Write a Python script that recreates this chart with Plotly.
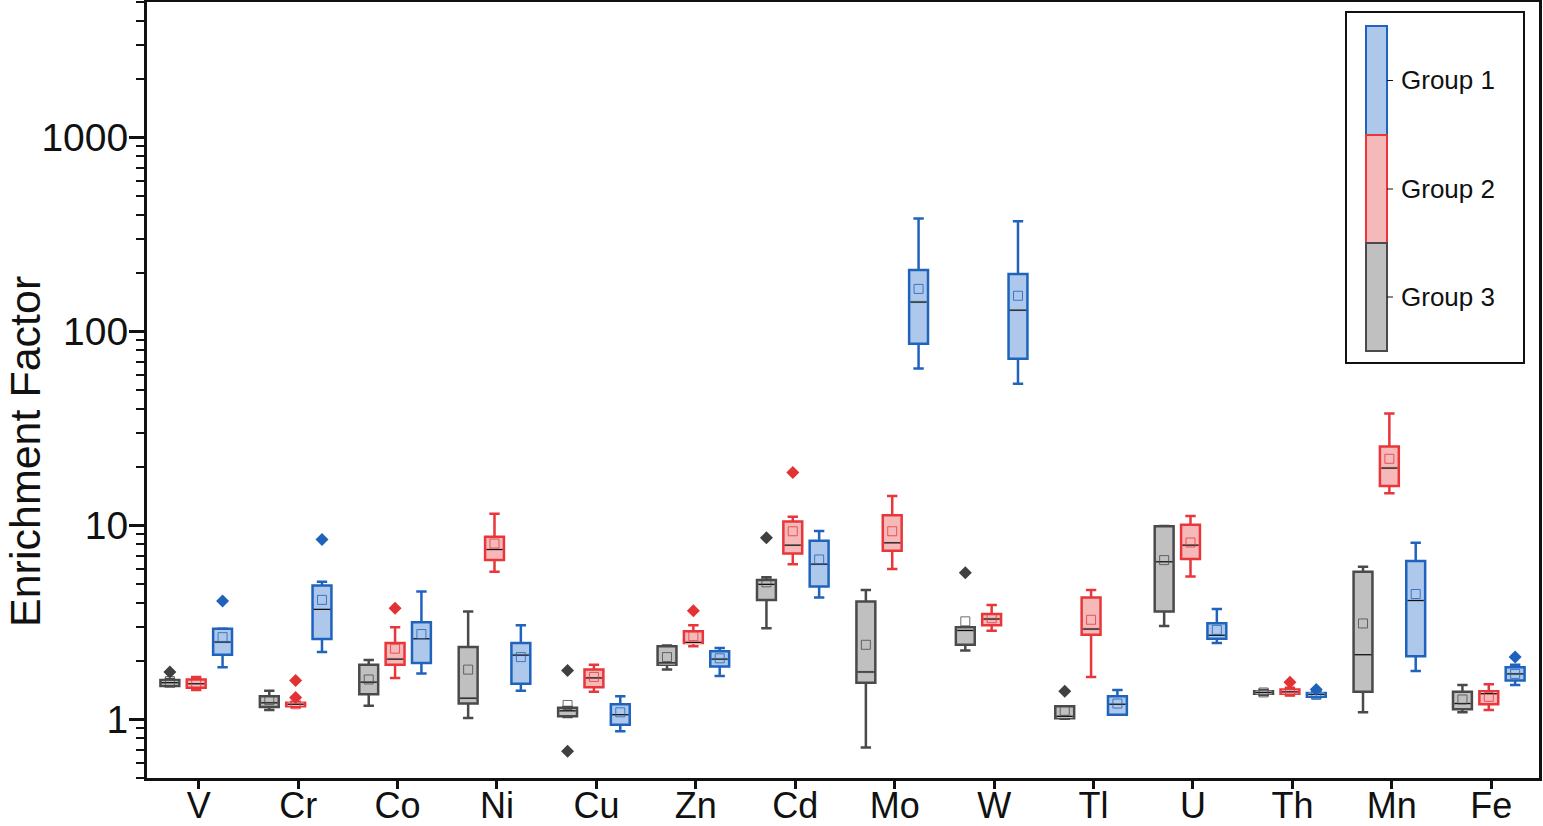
import numpy as np
import plotly.graph_objects as go

elements = ["V", "Cr", "Co", "Ni", "Cu", "Zn", "Cd", "Mo", "W", "Tl", "U", "Th", "Mn", "Fe"]

# Group 3 (grey boxes)
g3_low = [1.48, 1.12, 1.18, 1.02, 1.03, 1.81, 2.96, 0.718, 2.27, 1.01, 3.04, 1.34, 1.09, 1.09]
g3_q1 = [1.49, 1.16, 1.35, 1.21, 1.04, 1.92, 4.14, 1.55, 2.43, 1.015, 3.61, 1.36, 1.39, 1.13]
g3_med = [1.55, 1.22, 1.56, 1.29, 1.11, 1.96, 4.98, 1.76, 2.88, 1.04, 6.51, 1.38, 2.16, 1.21]
g3_q3 = [1.60, 1.32, 1.92, 2.37, 1.15, 2.39, 5.24, 4.06, 2.99, 1.17, 9.92, 1.40, 5.79, 1.39]
g3_high = [1.62, 1.41, 2.03, 3.61, 1.16, 2.41, 5.41, 4.66, 2.99, 1.17, 9.95, 1.42, 6.14, 1.51]
g3_mean = [1.58, 1.26, 1.61, 1.81, 1.19, 2.10, 5.10, 2.43, 3.21, 1.11, 6.64, 1.38, 3.13, 1.27]
g3_out = [("V", 1.76), ("Cu", 1.79), ("Cu", 0.686), ("Cd", 8.65), ("W", 5.72), ("Tl", 1.40)]

# Group 2 (red boxes)
g2_low = [1.42, 1.16, 1.64, 5.79, 1.39, 2.39, 6.33, 5.97, 2.87, 1.66, 5.46, 1.33, 14.7, 1.12]
g2_q1 = [1.46, 1.17, 1.92, 6.64, 1.47, 2.48, 7.18, 7.41, 3.06, 2.74, 6.72, 1.36, 16.0, 1.20]
g2_med = [1.53, 1.20, 2.05, 7.53, 1.64, 2.50, 7.93, 8.15, 3.30, 2.93, 7.93, 1.39, 19.8, 1.36]
g2_q3 = [1.61, 1.22, 2.48, 8.75, 1.81, 2.85, 10.5, 11.3, 3.50, 4.26, 10.1, 1.43, 25.6, 1.40]
g2_high = [1.66, 1.23, 2.99, 11.5, 1.92, 3.06, 11.1, 14.2, 3.90, 4.66, 11.2, 1.45, 37.8, 1.52]
g2_mean = [1.54, 1.20, 2.32, 8.08, 1.66, 2.69, 9.35, 9.35, 3.33, 3.27, 8.18, 1.40, 22.1, 1.31]
g2_out = [("Cr", 1.59), ("Cr", 1.30), ("Co", 3.75), ("Zn", 3.64), ("Cd", 18.8), ("Th", 1.56)]

# Group 1 (blue boxes)
g1_low = [1.86, 2.23, 1.73, 1.41, 0.87, 1.68, 4.26, 64.6, 53.9, 1.06, 2.48, 1.30, 1.78, 1.51]
g1_q1 = [2.16, 2.60, 1.96, 1.53, 0.94, 1.88, 4.85, 86.5, 72.4, 1.06, 2.61, 1.31, 2.12, 1.59]
g1_med = [2.51, 3.70, 2.61, 2.15, 1.06, 2.05, 6.33, 142, 129, 1.20, 2.72, 1.35, 4.11, 1.72]
g1_q3 = [2.94, 4.91, 3.18, 2.48, 1.20, 2.25, 8.35, 208, 198, 1.32, 3.14, 1.37, 6.56, 1.86]
g1_high = [2.95, 5.14, 4.57, 3.06, 1.32, 2.34, 9.39, 383, 370, 1.42, 3.72, 1.39, 8.15, 1.92]
g1_mean = [2.66, 4.14, 2.76, 2.10, 1.09, 2.07, 6.69, 166, 153, 1.21, 2.90, 1.34, 4.44, 1.72]
g1_out = [("V", 4.09), ("Cr", 8.47), ("Th", 1.43), ("Fe", 2.10)]

groups = [
    dict(name="Group 3", low=g3_low, q1=g3_q1, med=g3_med, q3=g3_q3, high=g3_high,
         mean=g3_mean, out=g3_out, shift=-0.29, edge="#4a4a4a", fill="#c0c0c0", dot="#404040"),
    dict(name="Group 2", low=g2_low, q1=g2_q1, med=g2_med, q3=g2_q3, high=g2_high,
         mean=g2_mean, out=g2_out, shift=-0.025, edge="#e8363a", fill="#f6b9ba", dot="#e33234"),
    dict(name="Group 1", low=g1_low, q1=g1_q1, med=g1_med, q3=g1_q3, high=g1_high,
         mean=g1_mean, out=g1_out, shift=0.24, edge="#1f63bd", fill="#adc8ea", dot="#1e62bb"),
]

FONT = "Arial, Liberation Sans, sans-serif"
W, H = 1543, 826
L, R, T, B = 147, 4, 2, 48

fig = go.Figure()
idx = np.arange(len(elements))

for g in groups:
    xs = idx + g["shift"]
    fig.add_trace(go.Box(
        x=xs, q1=g["q1"], median=g["med"], q3=g["q3"],
        lowerfence=g["low"], upperfence=g["high"],
        width=0.19, whiskerwidth=0.55, boxpoints=False,
        fillcolor=g["fill"], line=dict(color=g["edge"], width=2.5),
        name=g["name"], showlegend=False,
    ))

for g in groups:
    xs = idx + g["shift"]
    # thin black median line instead of the coloured one
    fig.add_trace(go.Scatter(
        x=xs, y=g["med"], mode="markers", hoverinfo="skip", showlegend=False,
        marker=dict(symbol="line-ew", size=11.4, line=dict(color=g["fill"], width=3.5)),
    ))
    fig.add_trace(go.Scatter(
        x=xs, y=g["med"], mode="markers", hoverinfo="skip", showlegend=False,
        marker=dict(symbol="line-ew", size=11.4, line=dict(color="#111111", width=1.3)),
    ))
    fig.add_trace(go.Scatter(
        x=xs, y=g["mean"], mode="markers", showlegend=False, name=g["name"] + " mean",
        marker=dict(symbol="square-open", size=9, color=g["edge"], opacity=0.8,
                    line=dict(width=1)),
    ))
    ox = [elements.index(e) + g["shift"] for e, _ in g["out"]]
    oy = [v for _, v in g["out"]]
    fig.add_trace(go.Scatter(
        x=ox, y=oy, mode="markers", showlegend=False, name=g["name"] + " outliers",
        marker=dict(symbol="diamond", size=10, color=g["dot"]),
    ))


# legend drawn by hand, pixel helpers
pw, ph = W - L - R, H - T - B
def px(p):
    return (p - L) / pw
def py(p):
    return (H - B - p) / ph

shapes = [dict(type="rect", xref="paper", yref="paper",
               x0=px(1346), x1=px(1524), y0=py(363), y1=py(12),
               line=dict(color="#111111", width=2), fillcolor="white", layer="above")]
legend_rows = [("Group 1", 26, 135, groups[2]), ("Group 2", 135, 243, groups[1]),
               ("Group 3", 243, 351, groups[0])]
annotations = []
for label, top, bot, g in legend_rows:
    shapes.append(dict(type="rect", xref="paper", yref="paper",
                       x0=px(1366), x1=px(1387), y0=py(bot), y1=py(top),
                       line=dict(color=g["edge"], width=2), fillcolor=g["fill"], layer="above"))
    mid = (top + bot) / 2
    shapes.append(dict(type="line", xref="paper", yref="paper",
                       x0=px(1387), x1=px(1393), y0=py(mid), y1=py(mid),
                       line=dict(color="#111111", width=1), layer="above"))
    annotations.append(dict(text=label, xref="paper", yref="paper", x=px(1399), y=py(mid),
                            xanchor="left", yanchor="middle", showarrow=False,
                            font=dict(family=FONT, size=26, color="#111111")))

annotations.append(dict(text="Enrichment Factor", xref="paper", yref="paper",
                        x=px(25), y=py(452), textangle=-90, showarrow=False,
                        xanchor="center", yanchor="middle",
                        font=dict(family=FONT, size=43, color="#111111")))

minor_vals = [m * 10 ** d for d in range(-1, 4) for m in range(2, 10)
              if 0.5 <= m * 10 ** d <= 5000]

fig.update_layout(
    width=W, height=H,
    margin=dict(l=L, r=R, t=T, b=B),
    plot_bgcolor="white", paper_bgcolor="white",
    font=dict(family=FONT, color="#111111"),
    shapes=shapes, annotations=annotations,
    showlegend=False,
)
fig.update_xaxes(
    range=[-0.52, 13.48], tickmode="array", tickvals=list(idx), ticktext=elements,
    showgrid=False, zeroline=False, showline=True, linecolor="#111111", linewidth=3,
    mirror=True, ticks="outside", ticklen=8, tickwidth=2.5, tickcolor="#111111",
    tickfont=dict(family=FONT, size=36), automargin=False, ticklabelstandoff=-14,
)
fig.update_yaxes(
    type="log", range=[np.log10(0.5), np.log10(5000)],
    tickmode="array", tickvals=[1, 10, 100, 1000], ticktext=["1", "10", "100", "1000"],
    showgrid=False, zeroline=False, showline=True, linecolor="#111111", linewidth=3,
    mirror=True, ticks="outside", ticklen=15, tickwidth=2.5, tickcolor="#111111",
    tickfont=dict(family=FONT, size=39), automargin=False, ticklabelstandoff=-7,
    minor=dict(tickmode="array", tickvals=minor_vals, ticks="outside", ticklen=8,
               tickwidth=2, tickcolor="#111111", showgrid=False),
)

fig.write_html("out.html", config={"displayModeBar": False},
               post_script="document.body.style.margin='0';"
                           "document.body.style.overflow='hidden';")
